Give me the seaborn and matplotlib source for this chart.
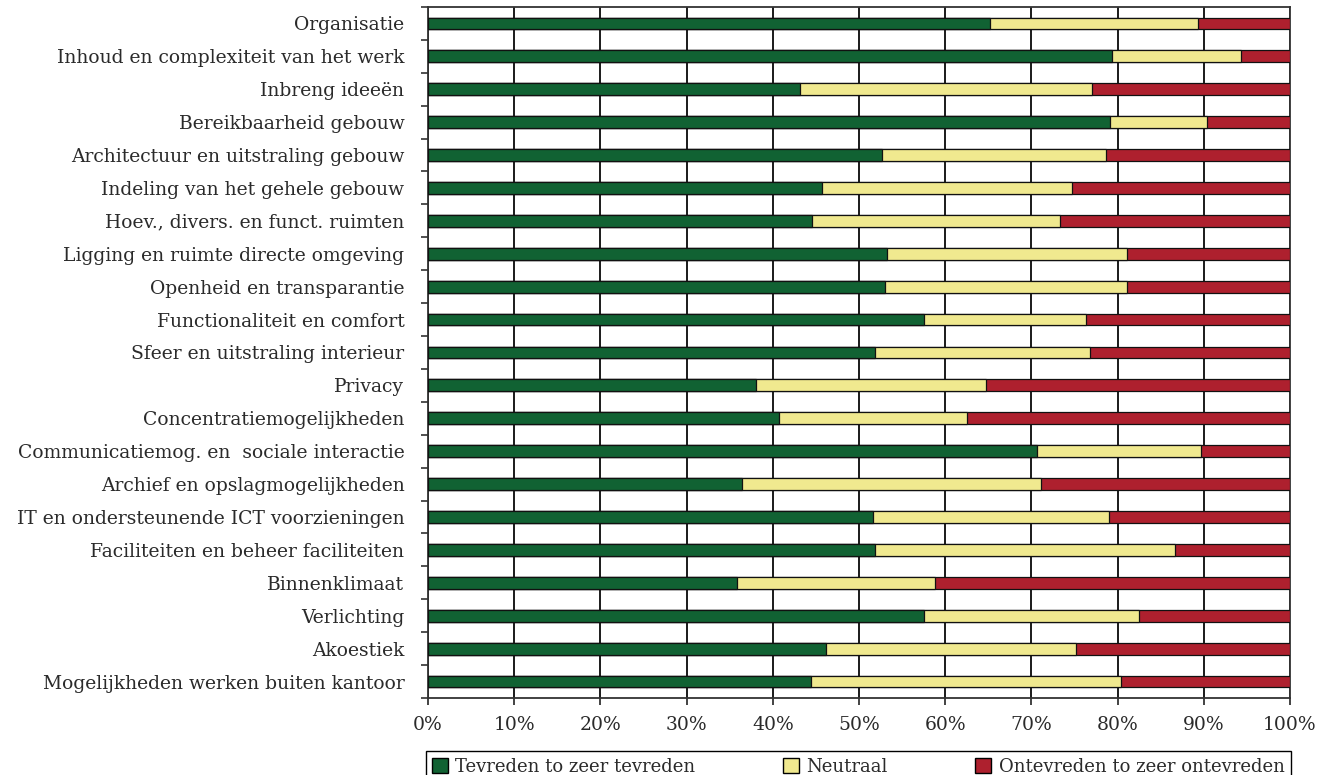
import matplotlib
matplotlib.use("Agg")
import matplotlib.pyplot as plt
from matplotlib.patches import Patch
from matplotlib.ticker import FixedLocator
import numpy as np
import pandas as pd
import seaborn as sns

categories = [
    "Organisatie",
    "Inhoud en complexiteit van het werk",
    "Inbreng ideeën",
    "Bereikbaarheid gebouw",
    "Architectuur en uitstraling gebouw",
    "Indeling van het gehele gebouw",
    "Hoev., divers. en funct. ruimten",
    "Ligging en ruimte directe omgeving",
    "Openheid en transparantie",
    "Functionaliteit en comfort",
    "Sfeer en uitstraling interieur",
    "Privacy",
    "Concentratiemogelijkheden",
    "Communicatiemog. en  sociale interactie",
    "Archief en opslagmogelijkheden",
    "IT en ondersteunende ICT voorzieningen",
    "Faciliteiten en beheer faciliteiten",
    "Binnenklimaat",
    "Verlichting",
    "Akoestiek",
    "Mogelijkheden werken buiten kantoor",
]
tevreden = [65.2, 79.3, 43.2, 79.1, 52.7, 45.7, 44.6, 53.2, 53.0, 57.5, 51.8,
            38.0, 40.7, 70.7, 36.4, 51.6, 51.8, 35.9, 57.5, 46.2, 44.4]
neutraal = [24.1, 15.0, 33.8, 11.3, 25.9, 29.0, 28.7, 27.9, 28.1, 18.8, 25.0,
            26.7, 21.8, 19.0, 34.7, 27.4, 34.9, 22.9, 25.0, 29.0, 36.0]
ontevreden = [10.7, 5.7, 23.0, 9.6, 21.4, 25.3, 26.7, 18.9, 18.9, 23.7, 23.2,
              35.3, 37.5, 10.3, 28.9, 21.0, 13.3, 41.2, 17.5, 24.8, 19.6]
series_labels = ["Tevreden to zeer tevreden", "Neutraal", "Ontevreden to zeer ontevreden"]
series_colors = ["#116233", "#f0e98f", "#ae202e"]
x_ticks = list(range(0, 101, 10))

df = pd.DataFrame({"categorie": categories, "tevreden": tevreden,
                   "neutraal": neutraal, "ontevreden": ontevreden})
df["cum_neutraal"] = df["tevreden"] + df["neutraal"]
df["cum_ontevreden"] = df["cum_neutraal"] + df["ontevreden"]

sns.set_style("ticks")
plt.rcParams["font.family"] = ["DejaVu Serif"]
plt.rcParams["text.color"] = "#2a2a2a"

fig = plt.figure(figsize=(13.32, 7.75), dpi=100)
ax = fig.add_axes([0.3213, 0.0994, 0.6472, 0.8916])

# gestapeld: eerst het totaal, dan de deelsommen eroverheen
for col, color in zip(["cum_ontevreden", "cum_neutraal", "tevreden"], series_colors[::-1]):
    sns.barplot(data=df, x=col, y="categorie", orient="h", color=color, saturation=1,
                width=0.36, edgecolor="#111111", linewidth=0.9, ax=ax, zorder=3)

ax.set_xlim(0, 100)
ax.set_ylim(len(categories) - 0.5, -0.5)
ax.set_xticks(x_ticks)
ax.set_xticklabels([f"{t}%" for t in x_ticks])
ax.set_xlabel("")
ax.set_ylabel("")

ax.xaxis.grid(True, color="#1a1a1a", linewidth=1.4, zorder=0)
ax.yaxis.grid(False)
ax.set_axisbelow(True)

ax.yaxis.set_minor_locator(FixedLocator(np.arange(-0.5, len(categories), 1.0)))
ax.tick_params(axis="y", which="major", length=0, pad=17, labelsize=13.5, labelcolor="#2a2a2a")
ax.tick_params(axis="y", which="minor", length=5, width=1.2, color="#333333", left=True)
ax.tick_params(axis="x", which="major", length=5, width=1.2, color="#222222",
               pad=8, labelsize=13.5, labelcolor="#2a2a2a")

for side in ["top", "bottom", "left", "right"]:
    ax.spines[side].set_visible(True)
    ax.spines[side].set_color("#333333")
    ax.spines[side].set_linewidth(1.3)

handles = [Patch(facecolor=c, edgecolor="black", linewidth=1.0) for c in series_colors]
fig.legend(handles, series_labels, loc="upper left", ncol=3, mode="expand",
           bbox_to_anchor=(0.3195, 0.0297, 0.6495, 0.001), frameon=True, fancybox=False,
           edgecolor="black", framealpha=1, fontsize=13, handlelength=0.9,
           handleheight=0.9, handletextpad=0.4, borderpad=0.35, borderaxespad=0)

fig.savefig("out.png", dpi=100)
plt.close(fig)
